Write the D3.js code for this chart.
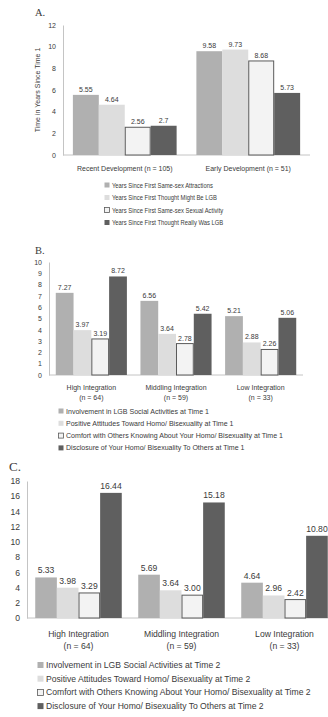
<!DOCTYPE html>
<html>
<head>
<meta charset="utf-8">
<script src="https://cdn.jsdelivr.net/npm/d3@7"></script>
<style>
  html, body { margin: 0; padding: 0; background: #ffffff; }
  svg { display: block; }
</style>
</head>
<body>
<svg id="chart" width="328" height="717"></svg>
<script>
// ---- data ----
const seriesA = [
  'Years Since First Same-sex Attractions',
  'Years Since First Thought Might Be LGB',
  'Years Since First Same-sex Sexual Activity',
  'Years Since First Thought Really Was LGB'
];
const categoriesA = [['Recent Development (n = 105)'], ['Early Development (n = 51)']];
const valuesA = [
  [5.55, 4.64, 2.56, 2.7],
  [9.58, 9.73, 8.68, 5.73]
];
const ticksA = [0, 2, 4, 6, 8, 10, 12];

const seriesB = [
  'Involvement in LGB Social Activities at Time 1',
  'Positive Attitudes Toward Homo/ Bisexuality at Time 1',
  'Comfort with Others Knowing About Your Homo/ Bisexuality at Time 1',
  'Disclosure of Your Homo/ Bisexuality To Others at Time 1'
];
const categoriesB = [
  ['High Integration', '(n = 64)'],
  ['Middling Integration', '(n = 59)'],
  ['Low Integration', '(n = 33)']
];
const valuesB = [
  [7.27, 3.97, 3.19, 8.72],
  [6.56, 3.64, 2.78, 5.42],
  [5.21, 2.88, 2.26, 5.06]
];
const ticksB = [0, 1, 2, 3, 4, 5, 6, 7, 8, 9, 10];

const seriesC = [
  'Involvement in LGB Social Activities at Time 2',
  'Positive Attitudes Toward Homo/ Bisexuality at Time 2',
  'Comfort with Others Knowing About Your Homo/ Bisexuality at Time 2',
  'Disclosure of Your Homo/ Bisexuality To Others at Time 2'
];
const categoriesC = categoriesB;
const valuesC = [
  [5.33, 3.98, 3.29, 16.44],
  [5.69, 3.64, 3.00, 15.18],
  [4.64, 2.96, 2.42, 10.80]
];
const ticksC = [0, 2, 4, 6, 8, 10, 12, 14, 16, 18];

// ---- style ----
const FILLS = ['#b0b0b0', '#dddddd', '#f3f3f3', '#5f5f5f'];
const STROKES = ['none', 'none', '#5a5a5a', 'none'];
const TEXT = '#3a3a3a';
const AXIS = '#c4c4c4';
const SANS = "'Liberation Sans', Arial, sans-serif";
const SERIF = "'Liberation Serif', 'Times New Roman', serif";

const svg = d3.select('#chart');

drawPanel({
  tag: 'A.', tagX: 35, tagY: 16, tagSize: 10.5,
  series: seriesA, categories: categoriesA, values: valuesA, ticks: ticksA,
  left: 63, right: 310, top: 25, bottom: 155, baseEnd: 310,
  font: 7, fmt: (v) => String(v), labelGap: 3,
  catY: 171, legendX: 104, legendY: 185, legendStep: 12.5, legendFont: 6.8, squeeze: 0.86, box: 5,
  yTitle: 'Time in Years Since Time 1', yTitleX: 40
});

drawPanel({
  tag: 'B.', tagX: 35, tagY: 254, tagSize: 10.5,
  series: seriesB, categories: categoriesB, values: valuesB, ticks: ticksB,
  left: 49, right: 303, top: 262, bottom: 375, baseEnd: 303,
  font: 7, fmt: (v) => v.toFixed(2), labelGap: 3,
  catY: 390, legendX: 58, legendY: 411, legendStep: 12.3, legendFont: 7.05, squeeze: 1, box: 5
});

drawPanel({
  tag: 'C.', tagX: 9, tagY: 471, tagSize: 13,
  series: seriesC, categories: categoriesC, values: valuesC, ticks: ticksC,
  left: 27, right: 336, top: 481, bottom: 618, baseEnd: 328,
  font: 8.6, fmt: (v) => v.toFixed(2), labelGap: 4,
  catY: 637, legendX: 37, legendY: 665, legendStep: 13.7, legendFont: 8.6, squeeze: 1, box: 6
});

function drawPanel(p) {
  const g = svg.append('g');

  g.append('text')
    .attr('x', p.tagX)
    .attr('y', p.tagY)
    .attr('fill', TEXT)
    .attr('font-family', SERIF)
    .attr('font-size', p.tagSize)
    .text(p.tag);

  const maxTick = d3.max(p.ticks);
  const y = d3.scaleLinear()
    .domain([0, maxTick])
    .range([p.bottom, p.top]);

  const x0 = d3.scaleBand()
    .domain(d3.range(p.categories.length))
    .range([p.left, p.right])
    .paddingInner(0.16)
    .paddingOuter(0.08);

  const x1 = d3.scaleBand()
    .domain(d3.range(p.series.length))
    .range([0, x0.bandwidth()]);

  // y axis
  const axis = g.append('g')
    .attr('transform', `translate(${p.left},0)`)
    .call(d3.axisLeft(y).tickValues(p.ticks).tickSize(0).tickSizeOuter(0).tickPadding(7));
  axis.select('.domain').attr('stroke', AXIS);
  axis.selectAll('text')
    .attr('fill', TEXT)
    .attr('font-family', SANS)
    .attr('font-size', p.font);

  // baseline
  g.append('line')
    .attr('x1', p.left)
    .attr('x2', p.baseEnd)
    .attr('y1', y(0))
    .attr('y2', y(0))
    .attr('stroke', AXIS)
    .attr('stroke-width', 1);

  if (p.yTitle) {
    g.append('text')
      .attr('transform', `translate(${p.yTitleX},${(p.top + p.bottom) / 2}) rotate(-90)`)
      .attr('text-anchor', 'middle')
      .attr('fill', TEXT)
      .attr('font-family', SANS)
      .attr('font-size', p.font)
      .text(p.yTitle);
  }

  // bars
  p.values.forEach((row, ci) => {
    const grp = g.append('g')
      .attr('transform', `translate(${x0(ci)},0)`);

    row.forEach((v, si) => {
      const inset = STROKES[si] === 'none' ? 0 : 0.5;
      grp.append('rect')
        .attr('x', x1(si) + inset)
        .attr('y', y(v))
        .attr('width', x1.bandwidth() - inset * 2)
        .attr('height', y(0) - y(v))
        .attr('fill', FILLS[si])
        .attr('stroke', STROKES[si])
        .attr('stroke-width', 1);

      grp.append('text')
        .attr('x', x1(si) + x1.bandwidth() / 2)
        .attr('y', y(v) - p.labelGap)
        .attr('text-anchor', 'middle')
        .attr('fill', TEXT)
        .attr('font-family', SANS)
        .attr('font-size', p.font)
        .text(p.fmt(v));
    });

    p.categories[ci].forEach((line, li) => {
      g.append('text')
        .attr('x', x0(ci) + x0.bandwidth() / 2)
        .attr('y', p.catY + li * (p.font + 3))
        .attr('text-anchor', 'middle')
        .attr('fill', TEXT)
        .attr('font-family', SANS)
        .attr('font-size', p.font)
        .text(line);
    });
  });

  // legend
  p.series.forEach((name, si) => {
    const ly = p.legendY + si * p.legendStep;
    g.append('rect')
      .attr('x', p.legendX + 0.5)
      .attr('y', ly - p.box / 2)
      .attr('width', p.box)
      .attr('height', p.box)
      .attr('fill', FILLS[si])
      .attr('stroke', STROKES[si])
      .attr('stroke-width', 0.8);

    const label = g.append('text')
      .attr('x', p.legendX + p.box + 3)
      .attr('y', ly)
      .attr('dominant-baseline', 'central')
      .attr('fill', TEXT)
      .attr('font-family', SANS)
      .attr('font-size', p.legendFont)
      .text(name);

    if (p.squeeze !== 1) {
      const len = label.node().getComputedTextLength();
      label.attr('textLength', len * p.squeeze)
        .attr('lengthAdjust', 'spacingAndGlyphs');
    }
  });
}
</script>
</body>
</html>
